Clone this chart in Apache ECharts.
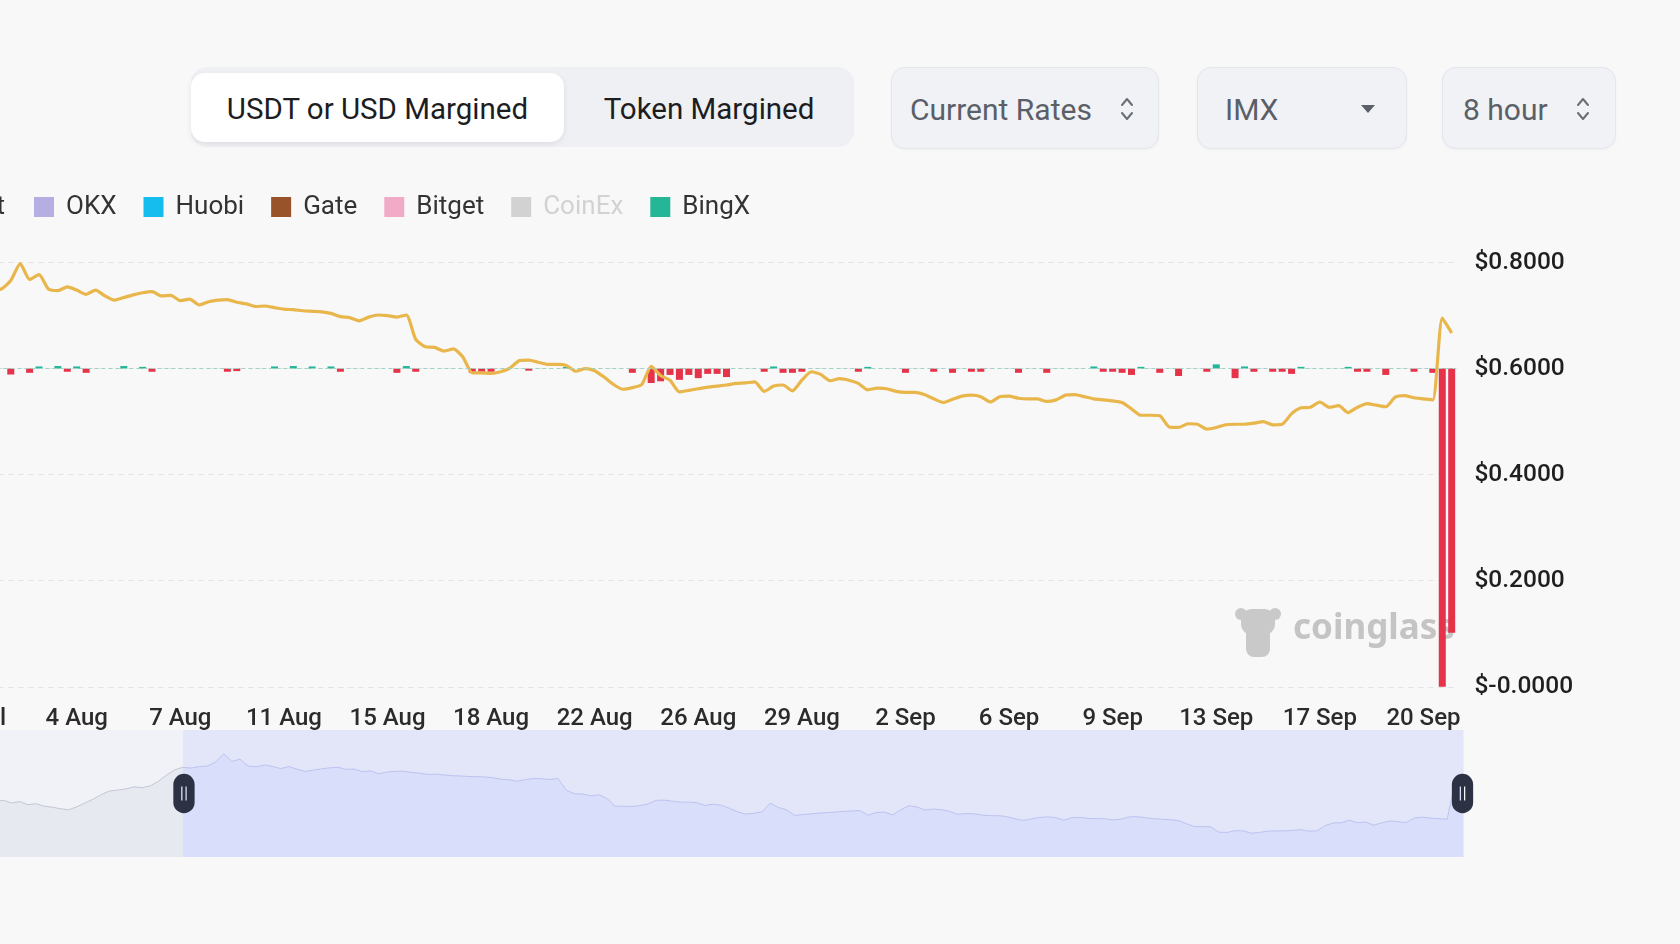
<!DOCTYPE html>
<html>
<head>
<meta charset="utf-8">
<title>IMX funding rate</title>
<script src="https://cdn.jsdelivr.net/npm/echarts@6/dist/echarts.min.js"></script>
<style>
  html, body { margin: 0; padding: 0; width: 1680px; height: 944px; overflow: hidden; background: #f8f8f8; font-family: Roboto, "Noto Sans", sans-serif; }
  #chart { position: absolute; left: -120px; top: 0; width: 1800px; height: 944px; }
  .seg { position: absolute; left: 191px; top: 67px; width: 663px; height: 80px; background: #eef0f3; border-radius: 16px; }
  .seg div { position: absolute; top: 6px; height: 69px; line-height: 72px; text-align: center; font-size: 29.5px; color: #1d1d1f; }
  .seg .on { left: 0; width: 373px; background: #fff; border-radius: 14px; box-shadow: 0 2px 6px rgba(0,0,0,0.08); }
  .seg .off { left: 373px; width: 290px; }
  .sel { position: absolute; top: 67px; height: 82px; line-height: 83px; background: #f0f2f5; border: 1px solid #e3e6eb; border-radius: 14px; box-sizing: border-box; font-size: 30px; color: #5b5f68; box-shadow: 0 1px 3px rgba(0,0,0,0.04); }
  .sel span { position: absolute; left: 18px; top: 0; }
  .sel svg { position: absolute; top: 50%; }
</style>
</head>
<body>
<div class="seg">
  <div class="on">USDT or USD Margined</div>
  <div class="off">Token Margined</div>
</div>
<div class="sel" style="left:891px;width:268px">
  <span>Current Rates</span>
  <svg style="left:228px;margin-top:-12px" width="14" height="26" viewBox="0 0 14 26"><path d="M2 9 L7 3 L12 9 M2 17 L7 23 L12 17" fill="none" stroke="#6a6e76" stroke-width="2" stroke-linecap="round" stroke-linejoin="round"/></svg>
</div>
<div class="sel" style="left:1197px;width:210px">
  <span style="left:27px">IMX</span>
  <svg style="left:163px;margin-top:-3px" width="14" height="8" viewBox="0 0 14 8"><path d="M0 0 L14 0 L7 8 Z" fill="#5b5f68"/></svg>
</div>
<div class="sel" style="left:1442px;width:174px">
  <span style="left:20px">8 hour</span>
  <svg style="left:133px;margin-top:-12px" width="14" height="26" viewBox="0 0 14 26"><path d="M2 9 L7 3 L12 9 M2 17 L7 23 L12 17" fill="none" stroke="#6a6e76" stroke-width="2" stroke-linecap="round" stroke-linejoin="round"/></svg>
</div>
<div id="chart"></div>

<script>
// 8h funding slots, first slot 22 Jul 2023 16:00 (UTC)
const firstSlot = Date.UTC(2023, 6, 22, 16);
const slotMs = 8 * 3600 * 1000;
const months = ['Jan','Feb','Mar','Apr','May','Jun','Jul','Aug','Sep','Oct','Nov','Dec'];

// slots before the zoom window (only seen in the slider)
const priceBefore = [
  0.620, 0.615, 0.620, 0.612, 0.615, 0.605, 0.610, 0.598, 0.602, 0.592,
  0.588, 0.582, 0.578, 0.590, 0.605, 0.620, 0.638, 0.652, 0.655, 0.660,
  0.668, 0.665, 0.672, 0.690, 0.715, 0.735
];
// zoom window: 31 Jul 08:00 -> 21 Sep 16:00
const priceWindow = [
  0.745, 0.742, 0.748, 0.750, 0.766, 0.798, 0.768, 0.777, 0.750, 0.747,
  0.754, 0.748, 0.740, 0.748, 0.737, 0.729, 0.734, 0.739, 0.743, 0.745,
  0.737, 0.738, 0.728, 0.731, 0.720, 0.726, 0.729, 0.730, 0.725, 0.722,
  0.717, 0.718, 0.715, 0.712, 0.711, 0.709, 0.708, 0.707, 0.704, 0.698,
  0.696, 0.690, 0.697, 0.701, 0.700, 0.697, 0.701, 0.655, 0.641, 0.640,
  0.633, 0.637, 0.622, 0.592, 0.592, 0.591, 0.594, 0.601, 0.615, 0.616,
  0.612, 0.608, 0.608, 0.606, 0.595, 0.600, 0.596, 0.584, 0.570, 0.561,
  0.564, 0.570, 0.604, 0.587, 0.578, 0.556, 0.559, 0.562, 0.565, 0.567,
  0.569, 0.572, 0.573, 0.575, 0.557, 0.567, 0.569, 0.558, 0.578, 0.594,
  0.589, 0.577, 0.581, 0.578, 0.572, 0.560, 0.563, 0.562, 0.557, 0.555,
  0.555, 0.551, 0.543, 0.536, 0.542, 0.548, 0.550, 0.547, 0.537, 0.547,
  0.548, 0.544, 0.543, 0.543, 0.538, 0.541, 0.550, 0.551, 0.547, 0.543,
  0.541, 0.539, 0.536, 0.524, 0.512, 0.512, 0.511, 0.490, 0.489, 0.496,
  0.495, 0.486, 0.489, 0.494, 0.495, 0.495, 0.497, 0.500, 0.494, 0.495,
  0.515, 0.526, 0.527, 0.537, 0.527, 0.530, 0.517, 0.527, 0.534, 0.531,
  0.528, 0.546, 0.549, 0.545, 0.543, 0.541, 0.695, 0.667
];

// funding rate (%) as [slot in window, rate]
const bybitRate = [
  [4,-0.028],[6,-0.02],[10,-0.015],[12,-0.02],[19,-0.015],[27,-0.015],[28,-0.012],[39,-0.015],
  [45,-0.02],[47,-0.015],[53,-0.02],[54,-0.015],[55,-0.015],[59,-0.01],[70,-0.02],[72,-0.068],
  [73,-0.06],[74,-0.03],[75,-0.053],[76,-0.03],[77,-0.045],[78,-0.025],[79,-0.025],[80,-0.04],
  [84,-0.015],[86,-0.02],[87,-0.02],[88,-0.015],[94,-0.015],[99,-0.02],[102,-0.015],[104,-0.02],
  [106,-0.015],[107,-0.015],[111,-0.02],[114,-0.02],[120,-0.015],[121,-0.015],[122,-0.02],[123,-0.03],
  [126,-0.02],[128,-0.035],[131,-0.015],[134,-0.045],[136,-0.015],[138,-0.015],[139,-0.015],[140,-0.025],
  [147,-0.015],[148,-0.015],[150,-0.03],[153,-0.015],[155,-0.02],[156,-1.5],[157,-1.245]
];
const bingxRate = [
  [7,0.01],[9,0.012],[11,0.01],[16,0.012],[18,0.008],[32,0.01],[34,0.012],[36,0.01],[38,0.01],
  [46,0.012],[63,0.008],[85,0.01],[95,0.008],[119,0.01],[124,0.008],[132,0.02],[135,0.01],
  [141,0.008],[146,0.008]
];

const exchanges = ['Bybit', 'OKX', 'Huobi', 'Gate', 'Bitget', 'CoinEx', 'BingX'];
const exchangeColors = ['#e5344a', '#b5aee3', '#14bdee', '#98532a', '#f2abc7', '#cfcfcf', '#25b697'];
const priceTicks = [0, 0.2, 0.4, 0.6, 0.8];

const priceData = priceBefore.concat(priceWindow);
const windowStart = priceBefore.length;

function pad(n) { return n < 10 ? '0' + n : '' + n; }
const slots = [];
for (let i = 0; i < priceData.length; i++) {
  const d = new Date(firstSlot + i * slotMs);
  slots.push(d.getUTCFullYear() + '-' + pad(d.getUTCMonth() + 1) + '-' + pad(d.getUTCDate()) + ' ' + pad(d.getUTCHours()) + ':00');
}

function rateSeries(pairs) {
  return pairs.map(p => [slots[windowStart + p[0]], p[1]]);
}
const rates = { Bybit: bybitRate, BingX: bingxRate };

let myChart = echarts.init(document.getElementById('chart'));

const legendBase = {
  top: 194,
  padding: 0,
  icon: 'rect',
  itemWidth: 20,
  itemHeight: 20,
  itemGap: 27,
  inactiveColor: '#d2d2d2',
  textStyle: {
    fontSize: 26,
    color: '#333',
    fontFamily: 'Roboto',
    padding: [0, 0, 0, 7]
  }
};

const barSeries = exchanges.map((name, i) => ({
  name: name,
  type: 'bar',
  stack: 'rate',
  yAxisIndex: 0,
  barWidth: 7,
  color: exchangeColors[i],
  data: rates[name] ? rateSeries(rates[name]) : [],
  markLine: name === 'BingX' ? {
    silent: true,
    symbol: 'none',
    label: { show: false },
    lineStyle: { color: '#9ed3c6', width: 1, type: [4, 3] },
    data: [{ yAxis: 0 }]
  } : undefined
}));

myChart.setOption({
  animation: false,
  textStyle: { fontFamily: 'Roboto' },
  tooltip: { trigger: 'axis' },
  legend: [
    // only the tail of this one is on screen
    Object.assign({}, legendBase, { data: exchanges.slice(0, 1), orient: 'vertical', right: 1675 }),
    Object.assign({}, legendBase, { data: exchanges.slice(1), left: 154, selected: { CoinEx: false } })
  ],
  grid: {
    left: 88.4,
    right: 223.6,
    top: 262.5,
    bottom: 257.2
  },
  xAxis: {
    type: 'category',
    data: slots,
    boundaryGap: true,
    axisLine: { show: false },
    axisTick: { show: false },
    splitLine: { show: false },
    axisLabel: {
      interval: (idx) => (idx - windowStart) % 11 === 0,
      margin: 20,
      fontSize: 24,
      fontWeight: 500,
      color: '#2b2b2b',
      formatter: (v) => {
        const d = new Date(v.replace(' ', 'T') + ':00Z');
        return d.getUTCDate() + ' ' + months[d.getUTCMonth()];
      }
    }
  },
  yAxis: [{
    // funding rate, zero lined up with the $0.6 price level
    type: 'value',
    min: -1.5,
    max: 0.5,
    interval: 0.5,
    show: false
  }, {
    type: 'value',
    position: 'right',
    min: priceTicks[0],
    max: priceTicks[priceTicks.length - 1],
    interval: 0.2,
    axisLine: { show: false },
    axisTick: { show: false },
    splitLine: { lineStyle: { color: '#e3e3e3', type: [5, 5] } },
    axisLabel: {
      margin: 18,
      fontSize: 24.5,
      fontWeight: 500,
      color: '#1f1f1f',
      formatter: (v) => Math.abs(v) < 1e-9 ? '$-0.0000' : '$' + v.toFixed(4)
    }
  }],
  dataZoom: [{
    type: 'slider',
    xAxisIndex: 0,
    startValue: windowStart,
    endValue: priceData.length - 1,
    left: 88.4,
    right: 219,
    top: 730,
    height: 127,
    showDetail: false,
    showDataShadow: true,
    brushSelect: false,
    moveHandleSize: 0,
    borderColor: 'transparent',
    backgroundColor: '#f1f2f7',
    fillerColor: 'rgba(210,216,250,0.45)',
    dataBackground: {
      lineStyle: { color: '#c3c7d6', width: 1 },
      areaStyle: { color: '#e7e9f1', opacity: 1 }
    },
    selectedDataBackground: {
      lineStyle: { color: '#a9b3e6', width: 1 },
      areaStyle: { color: '#dfe3fa', opacity: 1 }
    },
    handleIcon: 'path://M10,0 A10,10 0 0 1 20,10 V27 A10,10 0 0 1 10,37 A10,10 0 0 1 0,27 V10 A10,10 0 0 1 10,0 Z M7.4,12 V25 H8.6 V12 Z M11.4,12 V25 H12.6 V12 Z',
    handleSize: '31%',
    handleStyle: { color: '#2c3144', borderColor: '#2c3144', borderWidth: 0 }
  }],
  graphic: [{
    type: 'group',
    left: 1355,
    top: 608,
    z: 1,
    children: [
      { type: 'circle', shape: { cx: 6, cy: 9, r: 6 }, style: { fill: '#c9c9c9' }, z: 1 },
      { type: 'circle', shape: { cx: 40, cy: 9, r: 6 }, style: { fill: '#c9c9c9' }, z: 1 },
      { type: 'rect', shape: { x: 6, y: 4, width: 34, height: 26, r: 11 }, style: { fill: '#c9c9c9' }, z: 1 },
      { type: 'rect', shape: { x: 11, y: 22, width: 24, height: 30, r: 8 }, style: { fill: '#c9c9c9' }, z: 1 }
    ]
  }, {
    type: 'text',
    left: 1413,
    top: 612,
    z: 1,
    style: {
      text: 'coinglass',
      fill: '#c4c4c4',
      font: 'bold 35px "Noto Sans"'
    }
  }],
  series: [{
    name: 'Price',
    type: 'line',
    yAxisIndex: 1,
    z: 3,
    data: priceData,
    smooth: 0.2,
    showSymbol: false,
    color: '#e8b64b',
    lineStyle: { width: 3.2, color: '#e8b64b' }
  }].concat(barSeries)
});
</script>
</body>
</html>
